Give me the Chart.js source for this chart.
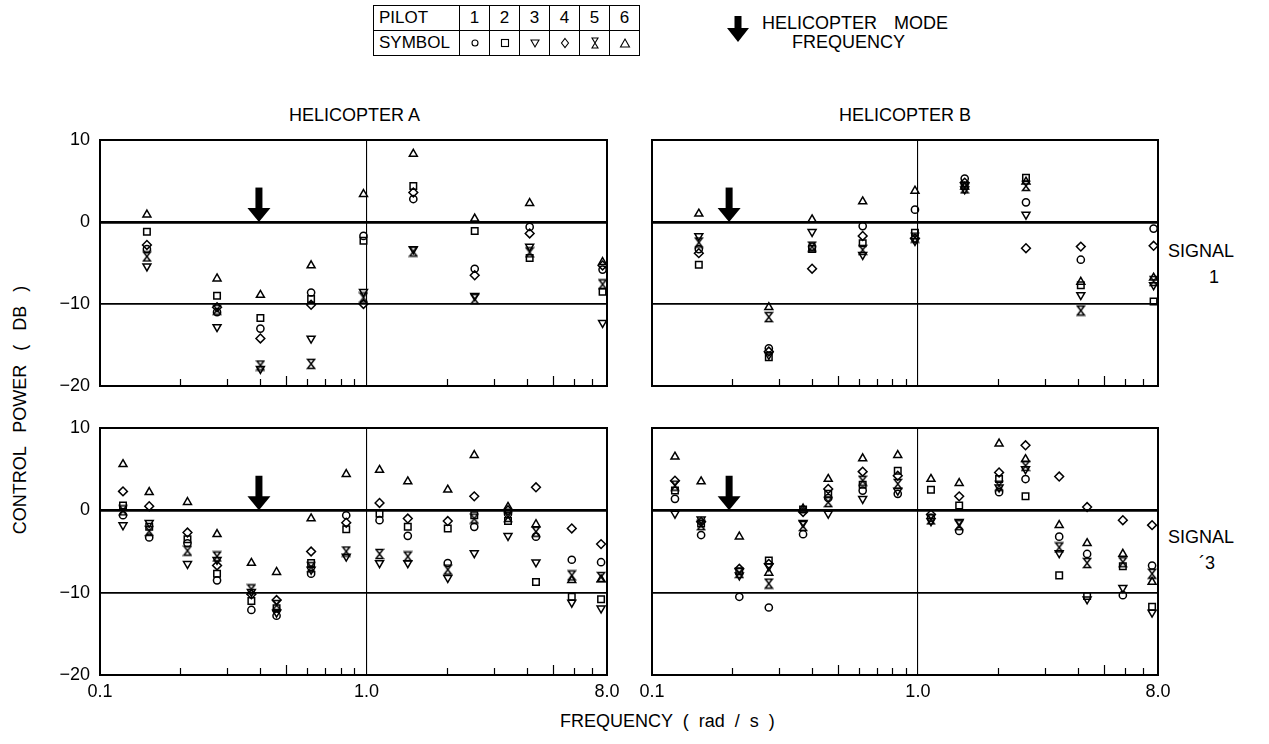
<!DOCTYPE html>
<html lang="en">
<head>
<meta charset="utf-8">
<title>Control power vs frequency</title>
<script src="https://cdn.jsdelivr.net/npm/chart.js@4.4.1/dist/chart.umd.min.js"></script>
<style>
  body { margin: 0; background: #fff; }
  #page { position: relative; width: 1269px; height: 744px; overflow: hidden; font-family: "Liberation Sans", Arial, sans-serif; color: #000; }
  #page canvas { position: absolute; }
  .txt { position: absolute; font-size: 18px; white-space: nowrap; line-height: 1; }
  table.key { position: absolute; left: 373px; top: 5px; border-collapse: collapse; font-size: 17px; }
  table.key td { border: 1.6px solid #000; height: 24px; width: 29px; text-align: center; padding: 0; }
  table.key td.head { width: 80px; text-align: left; padding-left: 5px; }
  table.key svg { display: block; margin: 0 auto; }
</style>
</head>
<body>
<div id="page">
  <table class="key">
    <tr><td class="head">PILOT</td><td>1</td><td>2</td><td>3</td><td>4</td><td>5</td><td>6</td></tr>
    <tr><td class="head">SYMBOL</td><td id="k1"></td><td id="k2"></td><td id="k3"></td><td id="k4"></td><td id="k5"></td><td id="k6"></td></tr>
  </table>
  <svg style="position:absolute;left:727px;top:16px" width="22" height="26">
    <rect x="7.5" y="0" width="7" height="13" fill="#000"/>
    <polygon points="0,12 22,12 11,26" fill="#000"/>
  </svg>
  <div class="txt" style="left:762px;top:14px;word-spacing:12px">HELICOPTER MODE</div>
  <div class="txt" style="left:792px;top:33px">FREQUENCY</div>

  <div class="txt" style="left:289px;top:106px">HELICOPTER A</div>
  <div class="txt" style="left:839px;top:106px">HELICOPTER B</div>

  <div class="txt" style="left:1168px;top:242px">SIGNAL</div>
  <div class="txt" style="left:1209px;top:268px">1</div>
  <div class="txt" style="left:1168px;top:528px">SIGNAL</div>
  <div class="txt" style="left:1199px;top:554px">&acute;3</div>

  <div class="txt" style="left:20px;top:410px;transform:translate(-50%,-50%) rotate(-90deg);word-spacing:9px">CONTROL POWER ( DB )</div>
  <div class="txt" style="left:560px;top:712px;word-spacing:5px">FREQUENCY ( rad / s )</div>

  <canvas id="chartA1" width="622" height="266" style="left:0px;top:130px"></canvas>
  <canvas id="chartB1" width="541" height="266" style="left:632px;top:130px"></canvas>
  <canvas id="chartA3" width="622" height="289" style="left:0px;top:418px"></canvas>
  <canvas id="chartB3" width="541" height="289" style="left:632px;top:418px"></canvas>
</div>

<script>
// ---- data ----
const pilots = ['1', '2', '3', '4', '5', '6'];

const xMajor = [0.1, 1, 8];
const xMinor = [0.2, 0.3, 0.4, 0.5, 0.6, 0.7, 0.8, 0.9, 2, 3, 4, 5, 6, 7];
const yTicks = [10, 0, -10, -20];

// helicopter mode frequency (rad/s), arrow drawn from arrowTop dB down to 0 dB
const modeFreqA = 0.395;
const modeFreqB = 0.195;
const arrowTop = 4.2;

// signal 1 frequencies
const freqSignal1 = [0.15, 0.275, 0.40, 0.62, 0.975, 1.5, 2.55, 4.1, 7.7];
// signal 3 frequencies
const freqSignal3 = [0.122, 0.153, 0.213, 0.275, 0.37, 0.46, 0.62, 0.84, 1.12, 1.43, 2.02, 2.54, 3.4, 4.33, 5.9, 7.6];

// Helicopter A, signal 1 (dB), one array per pilot
const a1Pilot1 = [-3.3, -11.0, -13.0, -8.6, -1.7, 2.8, -5.7, -0.6, -5.8];
const a1Pilot2 = [-1.2, -9.0, -11.7, -9.4, -2.3, 4.4, -1.1, -4.4, -8.5];
const a1Pilot3 = [-5.4, -12.8, -17.9, -14.2, -8.5, -3.3, -9.0, -3.0, -12.3];
const a1Pilot4 = [-2.8, -10.4, -14.2, -10.1, -10.0, 3.6, -6.5, -1.4, -5.3];
const a1Pilot5 = [-4.2, -10.7, -17.5, -17.3, -9.2, -3.6, -9.4, -3.7, -7.6];
const a1Pilot6 = [0.9, -6.9, -8.9, -5.3, 3.4, 8.3, 0.4, 2.3, -4.9];

// Helicopter B, signal 1
const b1Pilot1 = [-3.3, -15.4, -3.0, -0.5, 1.5, 5.3, 2.4, -4.6, -0.8];
const b1Pilot2 = [-5.2, -16.5, -3.3, -2.6, -1.3, 4.4, 5.4, -7.7, -9.7];
const b1Pilot3 = [-1.7, -16.2, -1.2, -4.0, -2.3, 4.0, 0.9, -8.9, -7.7];
const b1Pilot4 = [-3.8, -15.8, -5.7, -1.7, -2.0, 4.8, -3.2, -3.0, -2.9];
const b1Pilot5 = [-2.5, -11.6, -3.0, -3.4, -1.9, 4.1, 4.4, -10.8, -7.2];
const b1Pilot6 = [1.0, -10.4, 0.3, 2.5, 3.8, 4.3, 4.9, -7.3, -6.8];

// Helicopter A, signal 3
const a3Pilot1 = [-0.6, -3.3, -4.0, -8.5, -12.1, -12.8, -7.7, -0.6, -1.2, -3.1, -6.4, -2.0, -0.4, -3.2, -6.0, -6.3];
const a3Pilot2 = [0.6, -2.0, -3.5, -7.7, -11.0, -11.9, -6.4, -2.3, -0.4, -2.0, -2.2, -0.6, -1.3, -8.7, -10.5, -10.8];
const a3Pilot3 = [-1.8, -1.5, -6.5, -6.0, -9.9, -12.4, -7.2, -5.6, -6.4, -6.4, -8.2, -5.2, -3.1, -6.3, -11.2, -11.9];
const a3Pilot4 = [2.3, 0.5, -2.7, -6.7, -10.2, -10.9, -5.0, -1.5, 0.9, -1.0, -1.3, 1.7, 0.0, 2.8, -2.2, -4.1];
const a3Pilot5 = [0.0, -2.5, -4.9, -5.6, -9.6, -11.5, -6.9, -5.0, -5.3, -5.6, -7.2, -1.0, -0.8, -2.6, -7.9, -8.1];
const a3Pilot6 = [5.6, 2.2, 1.0, -2.9, -6.4, -7.5, -1.0, 4.4, 4.9, 3.5, 2.5, 6.7, 0.4, -1.7, -8.5, -8.4];

// Helicopter B, signal 3
const b3Pilot1 = [1.4, -3.0, -10.5, -11.8, -2.9, 1.5, 2.4, 2.0, -0.9, -2.5, 2.2, 3.8, -3.2, -5.3, -10.3, -6.7];
const b3Pilot2 = [2.4, -1.6, -7.4, -6.1, 0.1, 2.0, 3.1, 4.8, 2.5, 0.6, 3.8, 1.7, -7.9, -10.4, -6.8, -11.7];
const b3Pilot3 = [-0.4, -1.1, -7.9, -6.8, -1.5, -0.4, 1.4, 2.4, -1.3, -1.4, 2.8, 5.0, -5.2, -10.8, -9.4, -12.4];
const b3Pilot4 = [3.6, -1.4, -7.1, -6.5, -0.2, 2.6, 4.7, 4.2, -0.5, 1.7, 4.6, 7.9, 4.1, 0.4, -1.2, -1.8];
const b3Pilot5 = [3.0, -1.8, -7.6, -8.9, -1.9, 1.0, 3.6, 3.2, -1.1, -1.8, 3.0, 5.4, -4.5, -6.4, -6.3, -7.7];
const b3Pilot6 = [6.5, 3.5, -3.2, -7.6, 0.2, 3.8, 6.3, 6.7, 3.8, 3.3, 8.1, 6.2, -1.8, -4.0, -5.3, -8.7];

// ---- symbols ----
function hourglass() {
  const c = document.createElement('canvas');
  c.width = 10;
  c.height = 12;
  const g = c.getContext('2d');
  g.strokeStyle = '#000';
  g.lineWidth = 1.5;
  g.beginPath();
  g.moveTo(1.5, 1.5);
  g.lineTo(8.5, 1.5);
  g.lineTo(1.5, 10.5);
  g.lineTo(8.5, 10.5);
  g.closePath();
  g.stroke();
  return c;
}

const pointStyles = ['circle', 'rect', 'triangle', 'rectRot', hourglass(), 'triangle'];
const pointRotations = [0, 0, 180, 0, 0, 0];
const pointRadii = [3.6, 4.6, 4.6, 4.4, 4, 4.6];

// legend symbols in the key table
const keySvg = [
  '<circle cx="6" cy="6" r="3" fill="none" stroke="#000" stroke-width="1.1"/>',
  '<rect x="2.5" y="2.5" width="7" height="7" fill="none" stroke="#000" stroke-width="1.1"/>',
  '<polygon points="2,3 10,3 6,10" fill="none" stroke="#000" stroke-width="1.1"/>',
  '<polygon points="6,1.5 9.5,6 6,10.5 2.5,6" fill="none" stroke="#000" stroke-width="1.1"/>',
  '<polygon points="3,1 9,1 3,11 9,11" fill="none" stroke="#000" stroke-width="1.1"/>',
  '<polygon points="6,2 10.5,10 1.5,10" fill="none" stroke="#000" stroke-width="1.1"/>'
];
keySvg.forEach((s, i) => {
  document.getElementById('k' + (i + 1)).innerHTML = '<svg width="12" height="12">' + s + '</svg>';
});

// frame, minor ticks and mode-frequency arrow
const panelDecor = {
  id: 'panelDecor',
  afterDraw(chart, args, opts) {
    const ctx = chart.ctx;
    const a = chart.chartArea;
    const xs = chart.scales.x;
    const ys = chart.scales.y;
    ctx.save();
    ctx.strokeStyle = '#000';
    ctx.fillStyle = '#000';

    // minor ticks on the bottom edge
    ctx.lineWidth = 1.2;
    xMinor.forEach(v => {
      const px = Math.round(xs.getPixelForValue(v)) + 0.5;
      const len = (v === 0.5 || v === 5) ? 10 : 7;
      ctx.beginPath();
      ctx.moveTo(px, a.bottom);
      ctx.lineTo(px, a.bottom - len);
      ctx.stroke();
    });

    // arrow
    const ax = xs.getPixelForValue(opts.freq);
    const y0 = ys.getPixelForValue(0);
    const y1 = ys.getPixelForValue(arrowTop);
    const head = 14;
    ctx.fillRect(ax - 3.5, y1, 7, (y0 - y1) - head + 1);
    ctx.beginPath();
    ctx.moveTo(ax - 11.5, y0 - head);
    ctx.lineTo(ax + 11.5, y0 - head);
    ctx.lineTo(ax, y0);
    ctx.closePath();
    ctx.fill();

    // frame
    ctx.lineWidth = 2;
    ctx.strokeRect(a.left, a.top, a.right - a.left, a.bottom - a.top);
    ctx.restore();
  }
};

Chart.defaults.font.family = '"Liberation Sans", Arial, sans-serif';
Chart.defaults.font.size = 18;
Chart.defaults.color = '#000';

function makeDatasets(freqs, series) {
  return series.map((vals, i) => ({
    label: 'Pilot ' + pilots[i],
    data: freqs.map((f, j) => ({ x: f, y: vals[j] })),
    pointStyle: pointStyles[i],
    rotation: pointRotations[i],
    pointRadius: pointRadii[i],
    pointHoverRadius: pointRadii[i],
    borderColor: '#000',
    backgroundColor: 'rgba(0,0,0,0)',
    borderWidth: 1.5,
    showLine: false
  }));
}

function makePanel(canvasId, freqs, series, modeFreq, showYLabels, showXLabels) {
  const ctx = document.getElementById(canvasId).getContext('2d');
  return new Chart(ctx, {
    type: 'scatter',
    data: { datasets: makeDatasets(freqs, series) },
    options: {
      responsive: false,
      animation: false,
      events: [],
      layout: {
        padding: {
          left: showYLabels ? 0 : 20,
          top: 10,
          right: 15,
          bottom: showXLabels ? 0 : 10
        }
      },
      plugins: {
        legend: { display: false },
        tooltip: { enabled: false },
        panelDecor: { freq: modeFreq }
      },
      scales: {
        x: {
          type: 'logarithmic',
          min: 0.1,
          max: 8,
          border: { display: false },
          grid: {
            drawTicks: false,
            color: c => (c.tick && c.tick.value === 1) ? '#000' : 'rgba(0,0,0,0)',
            lineWidth: 1.1
          },
          ticks: {
            display: showXLabels,
            autoSkip: false,
            maxRotation: 0,
            padding: 6,
            callback: v => v === 0.1 ? '0.1' : Number(v).toFixed(1)
          },
          afterBuildTicks: s => { s.ticks = xMajor.map(v => ({ value: v })); },
          afterFit: s => {
            s.height = showXLabels ? 32 : 0;
            s.paddingLeft = 0;
            s.paddingRight = 0;
          }
        },
        y: {
          min: -20,
          max: 10,
          border: { display: false },
          grid: {
            drawTicks: false,
            color: c => (c.tick && (c.tick.value === 0 || c.tick.value === -10)) ? '#000' : 'rgba(0,0,0,0)',
            lineWidth: c => (c.tick && c.tick.value === 0) ? 2.8 : 1.7
          },
          ticks: {
            display: showYLabels,
            padding: 10,
            callback: v => v < 0 ? '\u2212' + Math.abs(v) : String(v)
          },
          afterBuildTicks: s => { s.ticks = yTicks.map(v => ({ value: v })); },
          afterFit: s => {
            s.width = showYLabels ? 100 : 0;
            s.paddingTop = 0;
            s.paddingBottom = 0;
          }
        }
      }
    },
    plugins: [panelDecor]
  });
}

makePanel('chartA1', freqSignal1, [a1Pilot1, a1Pilot2, a1Pilot3, a1Pilot4, a1Pilot5, a1Pilot6], modeFreqA, true, false);
makePanel('chartB1', freqSignal1, [b1Pilot1, b1Pilot2, b1Pilot3, b1Pilot4, b1Pilot5, b1Pilot6], modeFreqB, false, false);
makePanel('chartA3', freqSignal3, [a3Pilot1, a3Pilot2, a3Pilot3, a3Pilot4, a3Pilot5, a3Pilot6], modeFreqA, true, true);
makePanel('chartB3', freqSignal3, [b3Pilot1, b3Pilot2, b3Pilot3, b3Pilot4, b3Pilot5, b3Pilot6], modeFreqB, false, true);
</script>
</body>
</html>
